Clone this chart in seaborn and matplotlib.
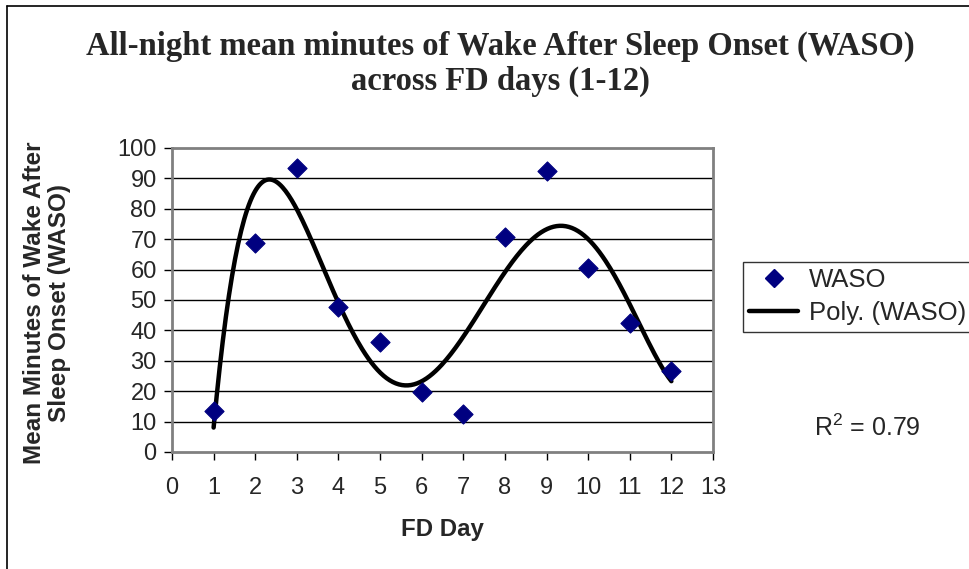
import matplotlib
matplotlib.use('Agg')
import matplotlib.pyplot as plt
import seaborn as sns
import numpy as np
import pandas as pd
from matplotlib.lines import Line2D

# dados
fd_day = [1, 2, 3, 4, 5, 6, 7, 8, 9, 10, 11, 12]
waso = [13.5, 68.7, 93.4, 47.7, 36.3, 19.6, 12.5, 70.6, 92.4, 60.5, 42.5, 26.7]
poly_order = 5
r2_text = 'R$^2$ = 0.79'

df = pd.DataFrame({'FD Day': fd_day, 'WASO': waso})

sns.set_style('white')
plt.rcParams['font.family'] = ['Liberation Sans', 'DejaVu Sans']
plt.rcParams['mathtext.fontset'] = 'custom'
plt.rcParams['mathtext.rm'] = 'Liberation Sans'

W, H = 969, 569
fig = plt.figure(figsize=(W / 100, H / 100), dpi=100)
ax = fig.add_axes([172 / W, (H - 452) / H, (713 - 172) / W, (452 - 148) / H])

# linha de tendencia polinomial (como no Excel)
coef = np.polyfit(df['FD Day'], df['WASO'], poly_order)
xs = np.linspace(1, 12, 300)
trend = pd.DataFrame({'x': xs, 'y': np.polyval(coef, xs)})

sns.lineplot(data=trend, x='x', y='y', ax=ax, color='black', linewidth=3.2,
             zorder=3, legend=False)
sns.scatterplot(data=df, x='FD Day', y='WASO', ax=ax, marker='D', s=95,
                color='#000080', edgecolor='#000080', zorder=4, legend=False)

ax.set_xlim(0, 13)
ax.set_ylim(0, 100)
ax.set_xticks(range(0, 14))
ax.set_yticks(range(0, 101, 10))
ax.tick_params(axis='both', labelsize=17, length=6, width=1, color='black',
               direction='out', bottom=True, left=True, pad=5)
ax.tick_params(axis='x', pad=12)
for y in range(10, 100, 10):
    ax.axhline(y, color='black', linewidth=1, zorder=1)
for s in ['top', 'right', 'left', 'bottom']:
    ax.spines[s].set_color('#808080')
    ax.spines[s].set_linewidth(2)

ax.set_xlabel('FD Day', fontsize=17.3, fontweight='bold', labelpad=14)
ax.set_ylabel('')
fig.text(47 / W, 1 - 303 / H, 'Mean Minutes of Wake After\nSleep Onset (WASO)',
         rotation=90, ha='center', va='center', fontsize=17.5,
         fontweight='bold', linespacing=1.15)

fig.text(500 / W, 1 - 64 / H, 'All-night mean minutes of Wake After Sleep Onset (WASO)\nacross FD days (1-12)',
         ha='center', va='center', fontsize=23.5, fontweight='bold',
         family='Liberation Serif', linespacing=1.15)

handles = [Line2D([], [], marker='D', color='#000080', linestyle='none', markersize=9),
           Line2D([], [], color='black', linewidth=3.2)]
leg = fig.legend(handles, ['WASO', 'Poly. (WASO)'], loc='upper left',
                 bbox_to_anchor=(743 / W, 1 - 262 / H), fontsize=18.5,
                 frameon=True, fancybox=False, edgecolor='black',
                 handlelength=1.9, handletextpad=0.4, borderpad=0.25,
                 labelspacing=0.35, borderaxespad=0)
leg.get_frame().set_linewidth(1)

fig.text(867 / W, 1 - 428 / H, r2_text, ha='center', va='center', fontsize=18)

# moldura do grafico
fig.add_artist(Line2D([6.5 / W, 6.5 / W], [0, 1 - 5.5 / H], color='black', linewidth=1.2))
fig.add_artist(Line2D([6.5 / W, 1], [1 - 5.5 / H, 1 - 5.5 / H], color='black', linewidth=1.2))

fig.savefig('out.png', dpi=100)
